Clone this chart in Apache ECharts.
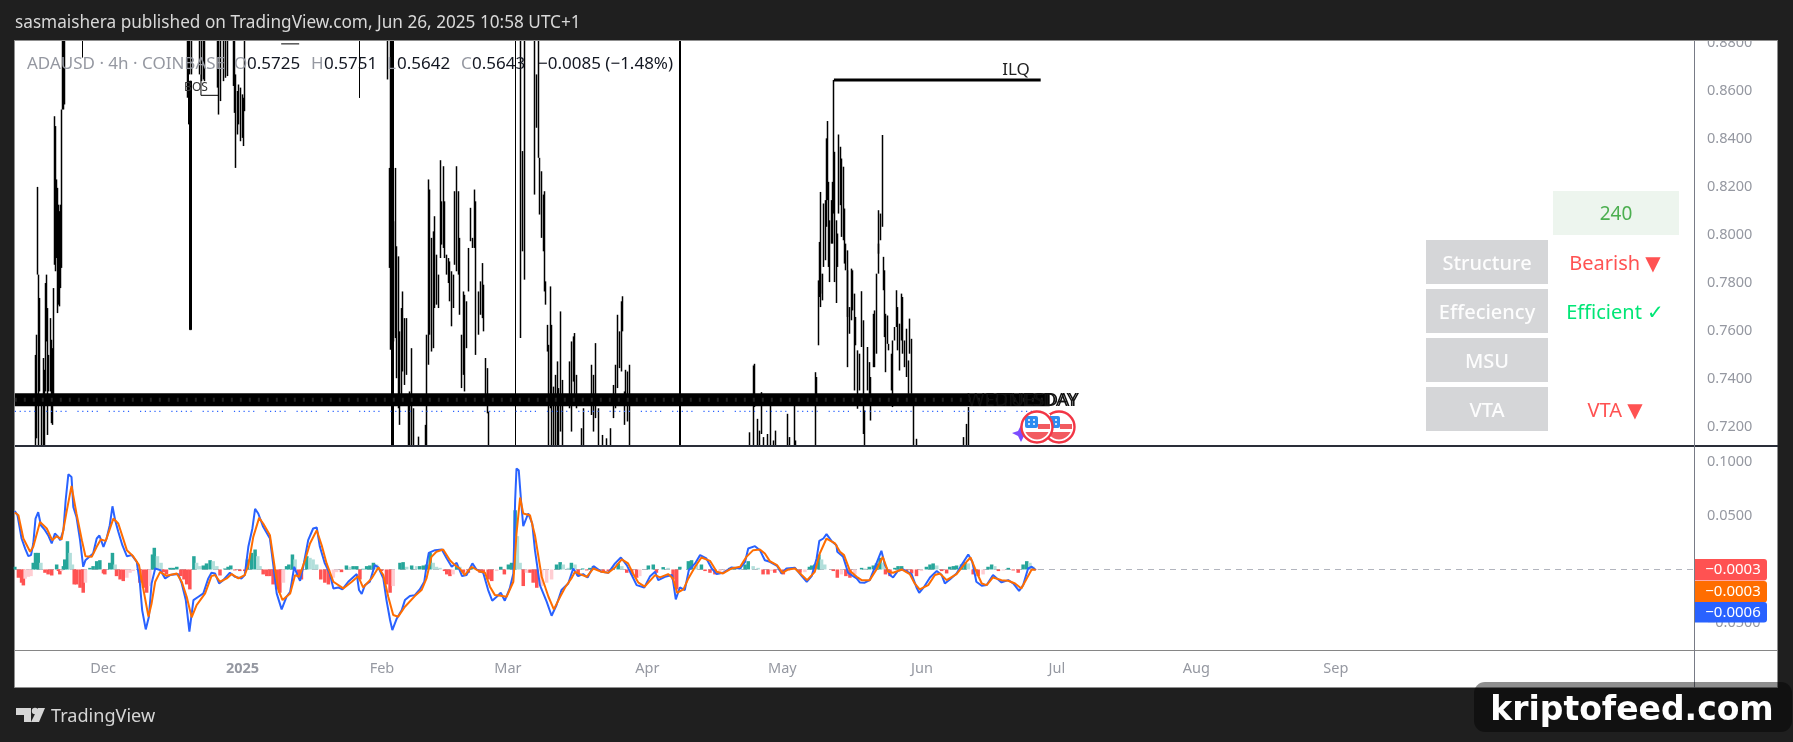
<!DOCTYPE html>
<html>
<head>
<meta charset="utf-8">
<title>ADAUSD 4h</title>
<style>
html, body { margin: 0; padding: 0; background: #1f1f1f; }
#main { width: 1793px; height: 742px; }
</style>
<script src="https://cdn.jsdelivr.net/npm/echarts@6/dist/echarts.min.js"></script>
</head>
<body>
<div id="main"></div>
<script>
// x values are days counted from 2024-12-01
var baseTime = Date.UTC(2024, 11, 1);

var monthTicks = ['2024-12-01', '2025-01-01', '2025-02-01', '2025-03-01', '2025-04-01', '2025-05-01', '2025-06-01', '2025-07-01', '2025-08-01', '2025-09-01'];
var monthLabels = ['Dec', '2025', 'Feb', 'Mar', 'Apr', 'May', 'Jun', 'Jul', 'Aug', 'Sep'];
var priceTicks = [0.72, 0.74, 0.76, 0.78, 0.80, 0.82, 0.84, 0.86, 0.88];
var macdTicks = [-0.05, 0.05, 0.10];
var priceMin = 0.7121;
var priceMax = 0.8806;

// candle ranges, off chart ends are written as 0.89 / 0.70
var wickDays = [
  -14.97,-14.67,-14.45,-14.23,-14.0,-13.63,-13.26,-13.04,-12.75,-12.52,-12.3,-12.0,-11.63,-11.41,-11.19,-10.97,-10.74,-10.52,-10.3,-10.08,-9.86,-9.63,-9.41,-9.19,-8.97,-8.74,-8.45,
  18.74,19.25,19.7,21.55,21.92,22.29,22.66,25.4,25.77,26.22,26.74,27.26,27.7,28.96,29.33,29.55,29.92,30.22,30.66,30.96,31.26,31.55,
  63.19,63.63,64.0,64.52,64.97,65.26,65.63,66.0,66.37,66.6,67.12,67.5,67.86,68.23,68.6,68.97,70.23,71.71,72.0,
  72.37,72.67,73.04,73.41,73.78,74.15,74.52,74.97,75.26,75.63,76.0,76.37,76.74,77.11,77.49,77.86,78.23,78.6,78.97,79.34,
  79.71,80.08,80.45,80.82,81.19,81.71,82.08,82.52,82.89,83.41,83.93,84.3,84.67,85.11,85.49,85.78,
  92.82,93.26,93.63,96.0,96.37,96.74,97.11,97.49,97.86,98.23,98.45,98.75,99.12,99.49,99.71,100.23,100.6,101.04,101.34,101.63,102.08,
  103.78,104.15,104.52,104.89,105.26,106.37,106.89,108.6,108.97,109.56,110.08,111.04,111.93,112.82,
  113.41,113.86,114.45,114.82,115.19,115.56,115.86,116.23,116.67,117.04,
  143.63,144.52,144.89,145.41,146.0,146.3,146.89,147.85,148.3,149.11,149.56,152.08,152.52,153.63,154.0,
  158.45,158.74,158.97,159.19,159.41,159.63,159.93,160.23,160.52,160.82,160.97,161.19,161.56,161.93,162.15,162.45,162.67,163.04,163.34,163.63,
  163.93,164.23,164.52,164.89,165.11,165.41,165.63,166.0,166.37,166.74,167.04,167.34,167.85,168.23,168.6,168.97,169.34,169.93,170.3,170.67,
  171.19,171.56,171.93,172.3,172.52,172.89,173.19,173.48,173.78,174.0,174.37,174.74,175.26,175.63,176.0,176.37,176.74,177.11,177.56,177.85,
  178.23,178.6,178.97,179.34,179.71,180.08,180.82,191.19,191.93,192.45
];
var wickHigh = [
  .7500,.7584,.8199,.7834,.7737,.7334,.7487,.7438,.7799,.7834,.7695,.7500,.7653,.7563,.7528,.7778,.8493,.8452,.8230,.8195,.8125,.8098,.8125,.8521,.89,.89,.89,
  .89,.89,.89,.89,.89,.89,.89,.89,.89,.89,.89,.89,.89,.89,.89,.8667,.8598,.8625,.8612,.8584,.8570,.89,
  .89,.8278,.89,.8056,.8278,.7952,.7910,.7598,.7695,.7764,.7653,.7653,.7292,.7348,.7528,.7278,.7160,.7209,.7584,
  .8230,.8188,.7987,.8014,.8077,.7917,.7834,.8310,.8139,.8285,.8139,.7917,.7903,.7889,.7848,.7834,.8181,.8285,.8181,.7987,
  .7584,.7764,.7750,.7723,.7945,.8112,.7987,.8188,.8139,.7764,.7806,.7882,.7792,.7487,.7445,.7264,
  .89,.8348,.89,.89,.8667,.89,.8320,.8264,.8167,.8181,.7806,.7625,.7542,.7785,.7625,.7368,.7417,.7473,.7362,.7681,.7396,
  .7473,.7556,.7577,.7591,.7417,.7195,.7278,.7459,.7417,.7549,.7278,.7167,.7153,.7195,
  .7375,.7459,.7667,.7598,.7723,.7744,.7348,.7438,.7431,.7459,
  .7178,.7456,.7463,.7234,.7185,.7345,.7158,.7171,.7290,.7144,.7185,.7255,.7158,.7290,.7144,
  .7428,.7408,.7810,.7970,.8178,.7838,.7838,.8130,.8144,.8401,.8473,.8220,.8060,.8144,.8220,.8644,.8345,.8060,.8005,.8417,
  .8366,.8317,.8283,.8109,.7963,.7852,.7935,.7699,.7859,.7852,.7755,.7658,.7519,.7505,.7765,.7644,.7269,.7533,.7470,.7408,
  .7671,.7685,.7838,.7963,.8102,.8088,.8415,.7908,.7852,.7671,.7664,.7546,.7505,.7560,.7616,.7769,.7699,.7630,.7755,.7741,
  .7560,.7609,.7477,.7651,.7567,.7290,.7151,.7158,.7213,.7283
];
var wickLow = [
  .70,.7153,.7834,.70,.7348,.70,.70,.70,.7348,.7556,.7167,.7348,.7348,.7216,.7209,.7334,.7875,.7848,.7903,.7674,.7709,.7702,.7778,.7862,.8521,.8521,.8542,
  .8570,.8667,.8667,.8667,.8639,.8646,.8639,.8612,.8500,.8556,.8639,.8653,.8660,.8619,.8507,.8278,.8417,.8459,.8389,.8403,.8369,.8514,
  .8646,.7862,.7521,.7556,.7570,.7403,.7278,.7209,.7334,.7431,.7375,.7417,.70,.70,.70,.70,.70,.70,.70,
  .7459,.7584,.7514,.7528,.7695,.7709,.7695,.7903,.7959,.7945,.7903,.7834,.7799,.7723,.7619,.7695,.7875,.7848,.7834,.7667,
  .7362,.7417,.7348,.7528,.7764,.7973,.7945,.7945,.7500,.7584,.7667,.7653,.7598,.7334,.7257,.70,
  .7570,.7931,.7813,.8167,.8445,.8320,.8084,.7987,.7931,.7764,.7709,.7514,.70,.7278,.70,.70,.70,.70,.70,.7181,.70,
  .7278,.7181,.7389,.7306,.7278,.70,.70,.7250,.7181,.7237,.70,.70,.70,.70,
  .7237,.7278,.7362,.7445,.7431,.7598,.7209,.7334,.7223,.70,
  .70,.70,.7283,.70,.70,.7171,.70,.70,.70,.70,.70,.70,.70,.70,.70,
  .70,.7290,.7540,.7741,.7755,.7699,.7727,.7866,.7894,.8033,.8144,.7866,.7803,.7963,.7963,.8088,.7803,.7716,.7866,.8088,
  .8123,.7991,.7977,.7880,.7852,.7658,.7449,.7588,.7644,.7685,.7352,.7540,.7276,.7352,.7533,.7171,.70,.7352,.7338,.7227,
  .7449,.7449,.7505,.7838,.7921,.7977,.8033,.7769,.7574,.7428,.7546,.7519,.7352,.7283,.7560,.7616,.7519,.7435,.7560,.7505,
  .7449,.7408,.7338,.7505,.7338,.70,.70,.70,.70,.70
];
// lone hairline candles and the few heavier ones
var thinDays = [-4.52, 18.96, 57.11, 91.71];
var thinHigh = [.89, .89, .89, .89];
var thinLow = [.8737, .8459, .8569, .70];
var wideDays = [19.48, 64.3, 128.23];
var wideHigh = [.8639, .89, .89];
var wideLow = [.7605, .70, .70];

var ilqDays = [162.45, 208.4];
var ilqPrice = [.8644, .8644];
var boxDays = [21.77, 21.77, 25.6, null, 39.6, 43.6];
var boxPrice = [.8667, .8580, .8580, null, .8794, .8794];
var bandDays = [-19.6, 210.4];
var bandPrice = [.7313, .7313];
var dotDays = [-19.6, 208];
var dotPrice = [.7265, .7265];

var macdDays = [
  -19.6,-19.0,-18.1,-17.3,-16.6,-16.0,-15.5,-15.0,-14.4,-13.8,-12.9,-12.2,-11.4,-10.7,-10.1,-9.5,-8.8,-8.3,-7.7,-7.0,-6.6,-5.9,-5.1,-4.4,-3.9,-2.9,-2.2,-1.4,-0.8,0.1,0.8,1.5,2.1,2.7,3.4,4.3,5.3,6.4,7.5,8.2,8.7,9.5,10.2,10.8,11.6,12.7,13.8,14.9,16.7,17.5,18.4,19.2,20.1,21.2,22.3,23.4,24.1,24.9,25.8,26.7,28.2,29.3,30.8,31.5,32.3,33.2,33.8,34.5,35.6,37.1,37.8,38.6,39.7,40.8,41.6,42.5,43.2,43.8,44.5,45.6,46.7,47.5,48.2,49.3,50.4,51.2,52.3,53.2,54.5,56.4,56.9,57.5,58.2,59.3,60.4,61.2,62.3,63.0,63.8,64.3,65.3,66.4,67.1,68.2,69.3,
  70.4,71.4,72.1,72.4,73.8,75.3,76.4,77.5,78.6,79.8,80.8,82.1,83.0,84.5,85.6,86.5,87.5,88.4,89.3,90.4,91.2,91.6,91.9,92.4,92.9,93.4,94.5,95.4,96.0,97.1,98.6,99.7,100.8,101.9,103.4,104.5,105.6,106.7,107.7,109.0,110.8,112.3,113.8,115.1,116.4,117.5,118.6,120.3,121.6,122.7,123.4,124.9,126.5,127.3,128.2,129.3,130.2,131.6,132.7,134.1,135.3,136.4,137.8,139.7,141.6,142.7,143.4,144.9,146.0,147.1,
  148.2,149.8,150.8,151.9,153.8,155.3,156.4,157.5,158.6,159.2,160.1,160.8,161.9,163.0,163.2,164.5,165.6,167.5,168.2,169.3,170.4,171.9,173.0,173.8,174.9,175.6,176.7,177.8,179.7,180.8,181.4,182.4,183.8,185.3,186.4,187.1,188.2,189.7,190.8,192.3,193.2,194.1,195.3,196.4,197.8,199.7,201.2,202.3,203.6,204.5,205.6,206.4,207.3
];
var macdVals = [
  .0543,.0503,.0287,.0194,.0123,.0133,.0241,.0472,.0531,.0410,.0364,.0318,.0241,.0333,.0309,.0272,.0364,.0642,.0883,.0858,.0580,.0488,.0272,.0025,.0086,.0123,.0148,.0287,.0315,.0210,.0287,.0410,.0586,.0457,.0349,.0225,.0123,.0133,.0071,-.0130,-.0377,-.0556,-.0438,-.0130,.0009,-.0006,-.0083,-.0052,-.0043,-.0130,-.0284,-.0577,-.0284,-.0253,-.0222,-.0083,-.0031,-.0037,-.0130,-.0099,-.0031,-.0068,-.0083,-.0052,.0210,.0380,.0562,.0519,.0395,.0287,.0056,-.0222,-.0370,-.0253,-.0207,.0025,-.0052,-.0105,.0025,.0272,.0380,.0389,.0210,.0056,-.0037,-.0176,-.0167,-.0185,-.0114,-.0043,-.0191,-.0228,-.0145,-.0114,.0040,.0019,-.0083,-.0284,-.0469,-.0562,-.0454,-.0377,-.0284,-.0247,-.0238,
  -.0185,-.0114,.0086,.0154,.0179,.0185,.0102,.0025,.0062,-.0062,-.0052,.0056,0,-.0031,-.0191,-.0290,-.0253,-.0216,-.0290,-.0176,-.0037,.0642,.0935,.0920,.0642,.0401,.0519,.0426,.0179,-.0145,-.0299,-.0429,-.0330,-.0191,-.0130,.0009,-.0062,-.0043,-.0074,.0031,-.0022,-.0031,.0056,.0111,.0040,-.0052,-.0145,-.0167,-.0062,-.0022,-.0099,-.0068,-.0052,-.0278,-.0167,-.0191,-.0006,.0056,.0133,.0102,.0009,-.0043,-.0031,.0019,.0009,.0071,.0194,.0216,.0179,.0086,
  .0071,.0034,-.0037,.0009,.0015,-.0062,-.0114,-.0062,.0102,.0265,.0287,.0327,.0265,.0225,.0164,.0117,-.0031,-.0083,-.0120,-.0123,-.0099,.0056,.0173,.0040,-.0052,-.0074,-.0012,0,-.0043,-.0167,-.0216,-.0167,-.0074,-.0015,-.0052,-.0130,-.0093,-.0037,.0040,.0139,.0071,-.0114,-.0151,-.0145,-.0052,-.0120,-.0099,-.0130,-.0198,-.0145,.0009,.0025,-.0006
];

var signalDays = [
  -19.6,-18.8,-17.7,-16.2,-15.5,-14.0,-12.5,-11.3,-10.3,-9.2,-8.1,-7.0,-5.9,-4.7,-3.9,-2.5,-1.4,-0.5,0.6,2.3,3.4,5.3,6.7,8.0,9.0,10.1,10.8,11.6,12.7,14.1,16.4,17.5,18.6,19.7,20.8,22.7,24.1,24.9,26.0,27.5,28.6,30.1,31.5,32.3,33.4,34.7,35.6,37.1,38.2,39.0,39.9,41.6,42.7,43.6,44.9,46.0,47.5,48.6,49.7,51.2,53.4,55.3,56.7,57.8,59.7,61.2,62.3,63.4,64.5,65.6,67.1,69.3,
  70.8,71.9,73.0,74.1,75.6,77.1,78.2,79.3,80.4,81.9,83.4,84.9,86.0,87.1,88.4,89.7,91.2,91.9,92.7,93.4,94.9,96.0,97.5,99.0,100.2,101.6,102.7,104.1,104.9,106.0,107.5,109.0,110.8,112.3,113.8,115.3,116.7,117.8,119.0,120.4,122.7,123.8,125.6,126.7,127.6,129.0,130.1,131.6,133.0,134.9,136.4,137.8,139.7,141.6,143.0,144.5,146.0,147.1,
  148.2,149.8,151.0,152.3,153.8,155.3,156.5,158.2,159.3,160.8,162.7,163.8,164.7,166.0,167.5,168.6,170.4,171.9,173.3,174.5,175.6,177.5,179.3,180.4,181.5,183.4,184.9,186.0,187.5,189.7,191.6,192.8,193.8,195.3,196.4,197.8,199.7,201.2,202.7,204.1,205.3,206.4,207.3
];
var signalVals = [
  .0528,.0503,.0287,.0164,.0210,.0441,.0380,.0272,.0309,.0278,.0534,.0775,.0519,.0272,.0123,.0117,.0210,.0278,.0265,.0472,.0426,.0179,.0123,.0040,-.0191,-.0438,-.0315,-.0114,-.0022,-.0059,-.0037,-.0114,-.0253,-.0444,-.0330,-.0222,-.0062,-.0052,-.0114,-.0083,-.0043,-.0083,-.0052,.0040,.0302,.0478,.0426,.0318,.0009,-.0191,-.0284,-.0222,-.0052,-.0068,.0086,.0241,.0364,.0225,.0056,-.0114,-.0176,-.0114,-.0062,-.0167,-.0083,.0019,-.0052,-.0253,-.0423,-.0438,-.0346,-.0247,
  -.0191,-.0083,.0117,.0164,.0185,.0086,.0040,.0009,-.0052,.0025,-.0012,-.0031,-.0160,-.0238,-.0244,-.0253,-.0114,.0333,.0667,.0519,.0503,.0318,-.0068,-.0253,-.0370,-.0253,-.0167,-.0083,-.0022,-.0043,-.0068,.0009,-.0022,-.0031,.0019,.0093,.0056,-.0037,-.0123,-.0160,-.0052,-.0074,-.0043,-.0083,-.0216,-.0185,-.0083,.0025,.0111,.0080,-.0022,-.0037,.0009,.0025,.0117,.0179,.0185,.0148,
  .0077,.0040,-.0031,0,.0009,-.0052,-.0099,-.0022,.0148,.0287,.0241,.0164,.0133,-.0012,-.0068,-.0099,-.0099,0,.0117,-.0022,-.0031,0,-.0043,-.0130,-.0185,-.0145,-.0052,-.0037,-.0099,-.0043,.0056,.0111,.0009,-.0130,-.0145,-.0074,-.0099,-.0105,-.0130,-.0176,-.0083,0,-.0003
];

var histDays = [
  -19.6,-18.8,-18.1,-17.7,-17.3,-16.6,-16.0,-15.5,-15.0,-14.4,-13.8,-12.9,-12.2,-11.4,-10.3,-9.9,-9.6,-9.2,-8.8,-8.5,-7.9,-7.3,-6.8,-6.4,-5.9,-5.1,-4.4,-3.9,-2.9,-2.2,-1.4,-0.7,0.1,0.4,1.5,2.1,2.7,3.0,3.8,4.5,5.3,6.0,6.7,8.2,9.0,9.7,10.4,11.0,11.4,12.1,12.9,13.4,14.1,14.9,15.6,16.4,17.3,18.0,18.6,19.3,20.2,20.8,21.5,22.3,23.0,23.8,24.5,25.3,26.0,27.1,27.8,28.4,29.3,30.4,31.5,32.1,33.0,33.8,34.4,34.9,35.6,36.4,37.1,37.8,38.6,39.3,40.1,40.8,41.3,42.1,42.7,43.4,44.1,45.3,46.0,46.7,47.5,48.4,49.3,50.1,51.2,51.9,53.0,54.1,54.9,55.6,56.4,57.1,57.8,58.6,59.3,60.1,60.8,61.9,63.0,63.8,64.5,66.0,66.7,67.5,68.6,
  69.7,70.4,71.2,71.9,72.7,73.4,74.1,74.9,75.9,76.4,77.1,77.8,78.6,79.3,80.1,81.2,81.9,83.8,84.5,85.6,86.4,87.5,88.4,89.2,90.1,90.8,91.6,92.1,92.7,93.4,94.1,94.9,95.6,96.4,97.5,98.6,99.7,100.8,101.6,102.3,103.4,104.1,104.9,105.6,106.6,107.5,108.2,109.0,110.1,111.2,112.3,113.4,114.5,115.3,116.4,117.5,118.6,119.3,121.2,122.3,123.0,124.5,125.6,126.7,127.5,128.2,130.1,130.8,131.9,133.0,133.8,134.9,136.0,137.1,138.2,139.3,140.4,141.6,142.7,143.4,144.5,145.6,146.7,
  147.8,148.6,149.3,150.4,151.2,152.3,154.9,156.0,157.0,157.5,158.2,159.1,159.7,160.4,162.3,163.2,164.1,165.1,166.0,167.1,168.6,169.3,170.3,171.2,171.9,172.7,173.4,173.9,174.9,176.0,176.7,177.5,178.6,179.7,180.8,181.9,183.0,183.8,184.5,185.3,186.4,187.5,188.2,189.0,189.7,190.8,191.6,192.3,193.4,194.5,195.6,196.7,197.5,198.2,199.0,200.1,201.2,202.3,203.4,204.5,205.3,206.0,206.7,207.3
];
var histVals = [
  .0025,-.0077,-.0123,-.0148,-.0086,-.0068,-.0062,.0062,.0154,.0154,.0062,-.0031,-.0046,-.0056,.0046,-.0015,-.0046,-.0015,.0031,.0093,.0262,.0154,.0046,-.0139,-.0139,-.0170,-.0216,-.0123,.0015,.0031,.0077,.0086,-.0037,-.0046,.0062,.0154,.0046,-.0062,-.0093,-.0108,-.0077,-.0031,-.0015,-.0123,-.0170,-.0216,-.0154,.0139,.0201,.0123,.0062,-.0025,-.0046,.0015,.0015,.0025,-.0062,-.0093,-.0139,-.0185,.0123,.0062,.0031,.0037,.0056,.0086,.0077,.0031,-.0056,.0009,.0025,.0037,-.0009,-.0015,-.0015,.0093,.0154,.0185,.0123,.0031,-.0046,-.0062,-.0062,-.0139,-.0185,-.0216,-.0123,.0031,.0046,.0139,.0093,-.0062,-.0093,.0123,.0108,.0093,.0046,-.0093,-.0123,-.0139,-.0077,-.0025,-.0025,.0037,.0025,.0031,.0031,-.0093,.0006,.0031,.0037,.0062,.0046,-.0015,-.0139,-.0216,-.0154,.0062,.0068,.0025,.0037,
  .0031,.0031,.0037,.0046,.0154,.0062,.0025,.0015,-.0015,-.0046,-.0062,-.0046,.0031,.0025,-.0031,-.0031,.0015,-.0031,-.0031,-.0093,-.0108,-.0015,.0025,-.0046,.0046,.0062,.0549,.0309,.0062,-.0154,-.0031,-.0031,-.0123,-.0170,-.0154,-.0123,-.0093,.0046,.0068,.0046,.0015,.0062,.0046,-.0062,.0009,-.0009,.0015,.0031,-.0015,-.0015,-.0015,.0015,.0056,.0031,-.0031,-.0046,-.0077,-.0062,.0037,.0046,-.0031,.0022,.0015,-.0093,-.0185,.0025,.0077,.0086,.0046,.0046,-.0015,-.0031,-.0046,-.0031,-.0015,.0015,.0022,.0015,.0046,.0077,.0031,.0015,-.0046,
  -.0046,-.0015,-.0031,-.0015,-.0046,-.0015,-.0031,-.0025,.0025,.0037,.0046,.0139,.0093,.0046,-.0015,-.0077,-.0046,-.0062,-.0077,-.0046,.0015,.0009,.0025,.0037,.0056,.0108,.0062,-.0046,-.0062,.0015,.0031,.0031,-.0025,-.0037,-.0062,-.0015,.0025,.0046,.0056,.0037,-.0015,-.0037,.0025,.0031,.0037,.0046,.0068,.0056,-.0046,-.0062,-.0046,.0025,.0046,.0031,-.0015,-.0009,.0015,-.0009,-.0031,.0046,.0077,.0062,.0025,-.0003
];

var tableRows = ['Structure', 'Effeciency', 'MSU', 'VTA'];
var tableVals = ['Bearish ▼', 'Efficient ✓', '', 'VTA ▼'];
var tableCols = ['#ff5252', '#00e676', '#ff5252', '#ff5252'];

var uiFont = '"Noto Sans", "DejaVu Sans", sans-serif';
var gray = '#9598a1';

function points(days, vals) {
  return days.map(function (d, i) { return d === null ? [null, null] : [d, vals[i]]; });
}
// candlesticks are not clipped to the grid, so stop them at the pane edges
function candles(days, high, low) {
  return days.map(function (d, i) {
    var lo = Math.max(low[i], priceMin);
    var hi = Math.min(high[i], priceMax);
    return [d, lo, hi, lo, hi];
  });
}
function candleSeries(name, data, barWidth, borderWidth) {
  return {
    name: name, type: 'candlestick', xAxisIndex: 0, yAxisIndex: 0, z: 2, barWidth: barWidth,
    encode: { x: 0, y: [1, 2, 3, 4] }, data: data,
    itemStyle: { color: '#000', color0: '#000', borderColor: '#000', borderColor0: '#000', borderWidth: borderWidth }
  };
}
function signedLabel(v) {
  return (v < 0 ? '\u2212' : '') + Math.abs(v).toFixed(4);
}

var monthPos = monthTicks.map(function (s) { return (new Date(s + 'T00:00:00Z').getTime() - baseTime) / 86400000; });

// teal / red, light when the bar moves back to zero
var histData = histVals.map(function (v, i) {
  var prev = i > 0 ? histVals[i - 1] : 0;
  var col;
  if (v >= 0) col = v >= prev ? '#26a69a' : '#b2dfdb';
  else col = v <= prev ? '#ff5252' : '#ffcdd2';
  return { value: [histDays[i], v], itemStyle: { color: col } };
});

function txt(x, y, s, color, size, align, weight, z) {
  return {
    type: 'text', x: x, y: y, z: z || 60, silent: true,
    style: { text: s, fill: color, font: (weight || 'normal') + ' ' + size + 'px ' + uiFont, textAlign: align || 'left', textVerticalAlign: 'middle' }
  };
}
function box(x, y, w, h, fill, z, r) {
  return { type: 'rect', z: z || 50, silent: true, shape: { x: x, y: y, width: w, height: h, r: r || 0 }, style: { fill: fill } };
}
function flag(cx, cy, z) {
  return {
    type: 'group', children: [
      { type: 'circle', z: z, shape: { cx: cx, cy: cy, r: 15.5 }, style: { fill: '#fff' } },
      { type: 'circle', z: z, shape: { cx: cx, cy: cy, r: 12.5 }, style: { fill: '#f25b60' } },
      box(cx - 13, cy - 13, 26, 18, '#fff', z),
      box(cx + 1, cy - 3, 12, 5, '#f25b60', z),
      box(cx - 12, cy - 11, 13, 12, '#2d8cf0', z, 2),
      { type: 'circle', z: z, shape: { cx: cx - 8, cy: cy - 7, r: 1 }, style: { fill: '#fff' } },
      { type: 'circle', z: z, shape: { cx: cx - 3, cy: cy - 7, r: 1 }, style: { fill: '#fff' } },
      { type: 'circle', z: z, shape: { cx: cx - 8, cy: cy - 3, r: 1 }, style: { fill: '#fff' } },
      { type: 'circle', z: z, shape: { cx: cx - 3, cy: cy - 3, r: 1 }, style: { fill: '#fff' } },
      { type: 'circle', z: z, shape: { cx: cx, cy: cy, r: 15.5 }, style: { fill: 'none', stroke: '#f23645', lineWidth: 2.4 } }
    ]
  };
}

var graphics = [
  // page frame
  { type: 'rect', z: -1, silent: true, shape: { x: 14.5, y: 40.5, width: 1763, height: 647 }, style: { fill: '#fff', stroke: '#8f8f8f', lineWidth: 1 } },
  box(0, 0, 1793, 40, '#1f1f1f', 50),
  box(14, 40, 1764, 1, '#8f8f8f', 50),
  box(15, 445, 1763, 2, '#2a2e39', 50),
  box(15, 650, 1763, 1, '#868686', 50),
  box(1694, 41, 1, 647, '#787b86', 50),
  txt(15, 23, 'sasmaishera published on TradingView.com, Jun 26, 2025 10:58 UTC+1', '#d8d8d8', 17.2),
  // legend over the candles
  txt(27, 64, 'ADAUSD · 4h · COINBASE', gray, 17),
  txt(234, 64, 'O', gray, 17), txt(247, 64, '0.5725', '#131722', 17),
  txt(311, 64, 'H', gray, 17), txt(324, 64, '0.5751', '#131722', 17),
  txt(387, 64, 'L', gray, 17), txt(397, 64, '0.5642', '#131722', 17),
  txt(461, 64, 'C', gray, 17), txt(472, 64, '0.5643', '#131722', 17),
  txt(538, 64, '\u22120.0085 (\u22121.48%)', '#131722', 17),
  txt(196, 88, 'BOS', '#333', 12, 'center'),
  txt(1016, 70, 'ILQ', '#222', 17, 'center'),
  // overprinted weekday labels at the end of the band
  txt(1079, 400.5, 'TUESDAY', '#111', 18.5, 'right'),
  txt(1077, 400.5, 'WEDNESDAY', '#111', 18.5, 'right'),
  // table
  box(1553, 191, 126, 44, '#edf5ee'),
  txt(1616, 215, '240', '#4caf50', 19, 'center'),
  box(1426, 240, 122, 44, '#d5d6d8'), box(1426, 289, 122, 44, '#d5d6d8'),
  box(1426, 338, 122, 44, '#d5d6d8'), box(1426, 387, 122, 44, '#d5d6d8'),
  // last value tags
  box(1695, 559, 72, 21.5, '#ff5252', 50, [0, 3, 3, 0]),
  box(1695, 581, 72, 21.5, '#ff6d00', 50, [0, 3, 3, 0]),
  box(1695, 602, 72, 20.5, '#2962ff', 50, [0, 3, 3, 0]),
  txt(1733, 570, signedLabel(histVals[histVals.length - 1]), '#fff', 15, 'center'),
  txt(1733, 592, signedLabel(signalVals[signalVals.length - 1]), '#fff', 15, 'center'),
  txt(1733, 613, signedLabel(macdVals[macdVals.length - 1]), '#fff', 15, 'center'),
  // flags
  { type: 'polygon', z: 54, shape: { points: [[1012, 433], [1018, 431], [1021, 425], [1024, 431], [1030, 433], [1024, 436], [1021, 442], [1018, 436]] }, style: { fill: '#7c4dff' } },
  flag(1059, 427, 55),
  flag(1037, 427, 56),
  // footer
  { type: 'polygon', z: 60, shape: { points: [[16, 708], [31, 708], [31, 722], [24, 722], [24, 715], [16, 715]] }, style: { fill: '#d6d6d6' } },
  { type: 'circle', z: 60, shape: { cx: 35, cy: 711, r: 3.2 }, style: { fill: '#d6d6d6' } },
  { type: 'polygon', z: 60, shape: { points: [[38, 708], [45, 708], [39, 722], [31, 722]] }, style: { fill: '#d6d6d6' } },
  txt(51, 717, 'TradingView', '#d6d6d6', 18.1),
  // kriptofeed watermark
  box(1474, 682, 318, 50, 'rgba(0,0,0,0.44)', 70, 11),
  {
    type: 'text', x: 1632, y: 711, z: 72, silent: true,
    style: { text: 'kriptofeed.com', fill: '#fff', font: 'bold 33px "DejaVu Sans"', textAlign: 'center', textVerticalAlign: 'middle', shadowColor: '#000', shadowOffsetX: 2, shadowOffsetY: 2, shadowBlur: 0 }
  }
];
tableRows.forEach(function (name, i) {
  graphics.push(txt(1487, 264 + i * 49, name, 'rgba(255,255,255,0.95)', 20, 'center', '500'));
  if (tableVals[i]) graphics.push(txt(1615, 264 + i * 49, tableVals[i], tableCols[i], 20, 'center'));
});

var chart = echarts.init(document.getElementById('main'), null, { renderer: 'canvas' });

chart.setOption({
  animation: false,
  backgroundColor: '#1f1f1f',
  textStyle: { fontFamily: uiFont },
  graphic: { elements: graphics },
  grid: [
    { left: 15, right: 99, top: 41, height: 405 },
    { left: 15, right: 99, top: 446, height: 204 }
  ],
  xAxis: [
    { type: 'value', gridIndex: 0, min: -19.56, max: 353.6, axisLine: { show: false }, axisTick: { show: false }, axisLabel: { show: false }, splitLine: { show: false } },
    {
      type: 'value', gridIndex: 1, min: -19.56, max: 353.6,
      axisLine: { show: false }, axisTick: { show: false }, splitLine: { show: false },
      axisLabel: {
        customValues: monthPos, color: gray, fontSize: 14.5, margin: 11, hideOverlap: false,
        formatter: function (v) {
          var s = monthLabels[monthPos.indexOf(v)];
          return s === '2025' ? '{y|2025}' : s;
        },
        rich: { y: { fontWeight: 'bold', color: gray, fontSize: 14.5 } }
      }
    }
  ],
  yAxis: [
    {
      type: 'value', gridIndex: 0, position: 'right', min: priceMin, max: priceMax,
      axisLine: { show: false }, axisTick: { show: false }, splitLine: { show: false },
      axisLabel: { customValues: priceTicks, color: gray, fontSize: 14.5, margin: 13, formatter: function (v) { return v.toFixed(4); } }
    },
    {
      type: 'value', gridIndex: 1, position: 'right', min: -0.0747, max: 0.1145,
      axisLine: { show: false }, axisTick: { show: false }, splitLine: { show: false },
      axisLabel: { customValues: macdTicks, color: gray, fontSize: 14.5, margin: 13, formatter: signedLabel }
    }
  ],
  series: [
    {
      name: 'band', type: 'line', xAxisIndex: 0, yAxisIndex: 0, z: 3, symbol: 'none',
      data: points(bandDays, bandPrice), lineStyle: { color: '#000', width: 13, cap: 'butt' }
    },
    {
      name: 'band specks', type: 'line', xAxisIndex: 0, yAxisIndex: 0, z: 3, symbol: 'none',
      data: points(bandDays, bandPrice), lineStyle: { color: '#222', width: 4, cap: 'butt', type: [2, 7] }
    },
    {
      name: 'dots', type: 'line', xAxisIndex: 0, yAxisIndex: 0, z: 3, symbol: 'none',
      data: points(dotDays, dotPrice),
      lineStyle: { color: '#2962ff', width: 1.2, type: [1.2, 3.6, 1.2, 3.6, 1.2, 3.6, 1.2, 3.6, 1.2, 10.9] }
    },
    candleSeries('ADAUSD', candles(wickDays, wickHigh, wickLow), 1, 1.5),
    candleSeries('ADAUSD thin', candles(thinDays, thinHigh, thinLow), 0.5, 1),
    candleSeries('ADAUSD wide', candles(wideDays, wideHigh, wideLow), 2, 1),
    {
      name: 'ILQ', type: 'line', xAxisIndex: 0, yAxisIndex: 0, z: 4, symbol: 'none',
      data: points(ilqDays, ilqPrice), lineStyle: { color: '#000', width: 3 }
    },
    {
      name: 'BOS', type: 'line', xAxisIndex: 0, yAxisIndex: 0, z: 4, symbol: 'none', connectNulls: false,
      data: points(boxDays, boxPrice), lineStyle: { color: '#000', width: 1 }
    },
    {
      name: 'Histogram', type: 'bar', xAxisIndex: 1, yAxisIndex: 1, z: 2, barWidth: 3.5, data: histData,
      markLine: {
        silent: true, symbol: 'none', label: { show: false }, z: 1,
        lineStyle: { color: '#b2b5be', type: [6, 5], width: 1 }, data: [{ yAxis: 0 }]
      }
    },
    {
      name: 'MACD', type: 'line', xAxisIndex: 1, yAxisIndex: 1, z: 3, symbol: 'none',
      data: points(macdDays, macdVals), lineStyle: { color: '#2962ff', width: 2 }
    },
    {
      name: 'Signal', type: 'line', xAxisIndex: 1, yAxisIndex: 1, z: 4, symbol: 'none',
      data: points(signalDays, signalVals), lineStyle: { color: '#ff6d00', width: 2 }
    }
  ]
});
</script>
</body>
</html>
